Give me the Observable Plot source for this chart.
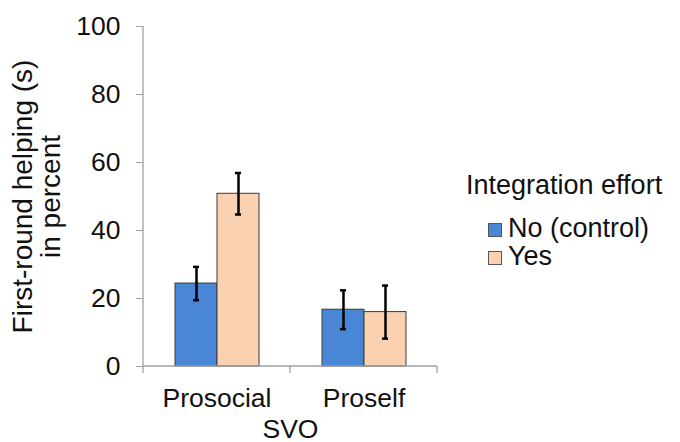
<!DOCTYPE html>
<html><head><meta charset="utf-8">
<script src="https://cdn.jsdelivr.net/npm/d3@7"></script>
<script src="https://cdn.jsdelivr.net/npm/@observablehq/plot@0.6"></script>
<style>
body{margin:0;background:#fff;font-family:"Liberation Sans",Arial,sans-serif;}
#wrap{position:relative;width:680px;height:442px;overflow:hidden;}
#chart{position:absolute;left:0;top:0;}
.lg{position:absolute;font-size:27px;line-height:27px;color:#111;white-space:nowrap;}
.sw{position:absolute;width:12px;height:12px;border:1px solid #555;}
</style></head>
<body>
<div id="wrap"><div id="chart"></div><div id="legend"></div></div>
<script>
const svoGroups = ["Prosocial", "Proself"];
const conditions = ["No (control)", "Yes"];
const noValues = [24.4, 16.7];
const yesValues = [50.8, 16.0];
const noErrors = [4.9, 5.7];
const yesErrors = [6.1, 7.8];
const yTicks = [0, 20, 40, 60, 80, 100];
const colors = ["#4a86d6", "#fad2b2"];
const legendTitle = "Integration effort";

const rows = svoGroups.flatMap((s, i) => [
  {svo: s, cond: conditions[0], value: noValues[i], err: noErrors[i]},
  {svo: s, cond: conditions[1], value: yesValues[i], err: yesErrors[i]}
]);

const chart = Plot.plot({
  width: 450, height: 442,
  marginLeft: 142, marginRight: 13, marginTop: 26, marginBottom: 76,
  style: {fontSize: "26.5px", fontFamily: "'Liberation Sans', Arial, sans-serif", color: "#111", background: "transparent"},
  fx: {domain: svoGroups, padding: 0},
  x: {domain: conditions, paddingInner: 0, paddingOuter: 0.75, axis: null},
  y: {domain: [0, 100]},
  color: {domain: conditions, range: colors},
  marks: [
    Plot.axisY({ticks: yTicks, tickSize: 7, tickPadding: 16, stroke: "#a0a0a0", label: "First-round helping (s)\nin percent", labelAnchor: "center", labelOffset: 131, labelArrow: "none"}),
    Plot.axisFx({anchor: "bottom", tickSize: 0, tickPadding: 22, label: "SVO", labelAnchor: "center", labelOffset: 71}),
    Plot.barY(rows, {fx: "svo", x: "cond", y: "value", fill: "cond", stroke: "#3a3a3a", strokeWidth: 1}),
    Plot.ruleX(rows, {fx: "svo", x: "cond", y1: d => d.value - d.err, y2: d => d.value + d.err, stroke: "#000", strokeWidth: 2.5}),
    Plot.tickY(rows, {fx: "svo", x: "cond", y: d => d.value - d.err, stroke: "#000", strokeWidth: 2.5, inset: 18}),
    Plot.tickY(rows, {fx: "svo", x: "cond", y: d => d.value + d.err, stroke: "#000", strokeWidth: 2.5, inset: 18})
  ]
});
document.getElementById("chart").appendChild(chart);

const svg = d3.select(chart);
svg.selectAll('g[aria-label="y-axis label"] text').style("font-size", "28px");

// Excel-style axis lines with boundary ticks, positioned via the plot's scales
const fx = chart.scale("fx"), y = chart.scale("y");
const g = svg.append("g").attr("stroke", "#a0a0a0").attr("stroke-width", 1.3);
const x0 = fx.apply(svoGroups[0]);
const x1 = fx.apply(svoGroups[svoGroups.length - 1]) + fx.bandwidth;
const y0 = y.apply(0);
g.append("line").attr("x1", x0).attr("x2", x0).attr("y1", y.apply(100)).attr("y2", y0);
g.append("line").attr("x1", x0).attr("x2", x1).attr("y1", y0).attr("y2", y0);
svoGroups.forEach(s => {
  const xs = fx.apply(s);
  g.append("line").attr("x1", xs).attr("x2", xs).attr("y1", y0).attr("y2", y0 + 7);
});
g.append("line").attr("x1", x1).attr("x2", x1).attr("y1", y0).attr("y2", y0 + 7);

// Legend
const lg = document.getElementById("legend");
const t = document.createElement("div");
t.className = "lg"; t.style.left = "466px"; t.style.top = "172px"; t.textContent = legendTitle;
lg.appendChild(t);
conditions.forEach((c, i) => {
  const top = 215 + i * 28;
  const sw = document.createElement("div");
  sw.className = "sw"; sw.style.left = "488px"; sw.style.top = (top + 8) + "px"; sw.style.background = colors[i];
  lg.appendChild(sw);
  const l = document.createElement("div");
  l.className = "lg"; l.style.left = "508px"; l.style.top = top + "px"; l.textContent = c;
  lg.appendChild(l);
});
</script>
</body></html>
